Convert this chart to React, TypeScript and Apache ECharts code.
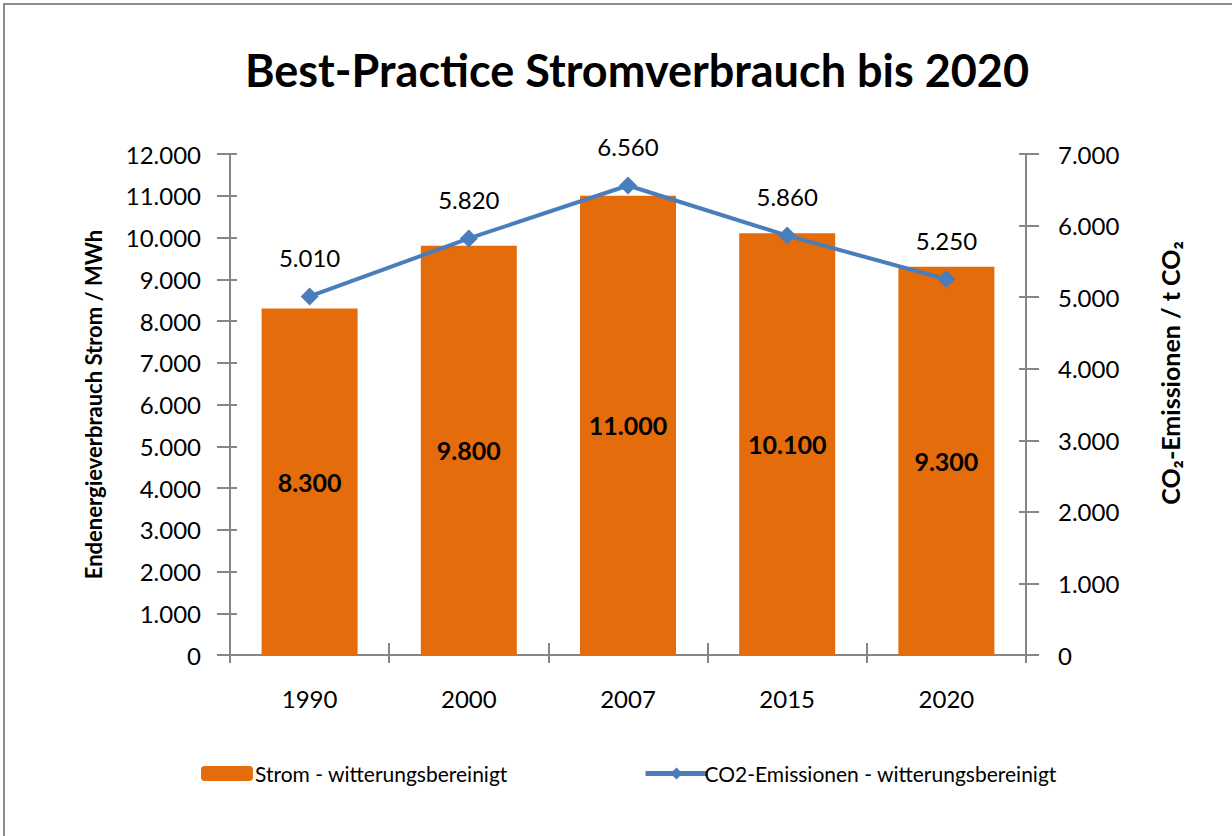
import React, { useEffect, useRef } from "react";
import * as echarts from "echarts";

const categories = ["1990", "2000", "2007", "2015", "2020"];
const stromValues = [8300, 9800, 11000, 10100, 9300];
const co2Values = [5010, 5820, 6560, 5860, 5250];
const stromName = "Strom - witterungsbereinigt";
const co2Name = "CO2-Emissionen - witterungsbereinigt";
const titleText = "Best-Practice Stromverbrauch bis 2020";
const leftAxisName = "Endenergieverbrauch Strom / MWh";
const rightAxisName = "CO\u2082-Emissionen / t CO\u2082";

const FONT = "Lato";
const AXIS_COLOR = "#868686";

const fmt = (v: number) =>
  String(Math.round(v)).replace(/\B(?=(\d{3})+(?!\d))/g, ".");

export default function App() {
  const ref = useRef<HTMLDivElement>(null);
  useEffect(() => {
    if (!ref.current) return;
    const chart = echarts.init(ref.current, undefined, { renderer: "svg" });
    const tickOnly = (position: "left" | "right", min: number, max: number, interval: number) => ({
      type: "value",
      position,
      min,
      max,
      interval,
      axisLine: { show: false },
      axisLabel: { show: false },
      splitLine: { show: false },
      axisTick: { show: true, inside: true, length: 7, lineStyle: { color: AXIS_COLOR, width: 2 } },
    });
    chart.setOption({
      animation: false,
      backgroundColor: "#ffffff",
      textStyle: { fontFamily: FONT },
      title: {
        text: titleText,
        left: 632,
        top: 42,
        textAlign: "center",
        textStyle: { fontFamily: FONT, fontSize: 45, fontWeight: "bold", color: "#000" },
      },
      graphic: [
        {
          type: "rect",
          shape: { x: 4, y: 4, width: 1300, height: 900 },
          style: { fill: "none", stroke: "#8c8c8c", lineWidth: 2 },
          silent: true,
        },
        {
          type: "text",
          x: 1170,
          y: 373,
          rotation: Math.PI / 2,
          style: {
            text: rightAxisName,
            fontFamily: FONT,
            fontSize: 25,
            fontWeight: "bold",
            fill: "#000",
            align: "center",
            verticalAlign: "middle",
          },
          silent: true,
        },
      ],
      legend: [
        {
          data: [stromName],
          left: 196,
          top: 758,
          itemWidth: 52,
          itemHeight: 15,
          itemGap: 0,
          textStyle: { fontFamily: FONT, fontSize: 21, color: "#000", padding: [0, 0, 0, -3] },
        },
        {
          data: [co2Name],
          left: 638,
          top: 758,
          itemWidth: 62,
          itemHeight: 15,
          lineStyle: { width: 5 },
          textStyle: { fontFamily: FONT, fontSize: 21, color: "#000", padding: [0, 0, 0, -8] },
        },
      ],
      grid: { left: 230, right: 206, top: 154, bottom: 181, containLabel: false },
      xAxis: [
        {
          type: "category",
          data: categories,
          position: "bottom",
          axisLine: { show: true, lineStyle: { color: AXIS_COLOR, width: 2 } },
          axisTick: { show: true, length: 8, lineStyle: { color: AXIS_COLOR, width: 2 } },
          axisLabel: { fontFamily: FONT, fontSize: 24, color: "#000", margin: 31 },
        },
        {
          type: "category",
          data: categories,
          position: "bottom",
          axisLine: { show: false },
          axisTick: { show: true, inside: true, length: 12, lineStyle: { color: AXIS_COLOR, width: 2 } },
          axisLabel: { show: false },
        },
      ],
      yAxis: [
        {
          type: "value",
          position: "left",
          min: 0,
          max: 12000,
          interval: 1000,
          name: leftAxisName,
          nameLocation: "middle",
          nameRotate: 90,
          nameGap: 126,
          nameTextStyle: { fontFamily: FONT, fontSize: 22, fontWeight: "bold", color: "#000" },
          axisLine: { show: true, lineStyle: { color: AXIS_COLOR, width: 2 } },
          axisTick: { show: true, length: 13, lineStyle: { color: AXIS_COLOR, width: 2 } },
          axisLabel: { fontFamily: FONT, fontSize: 24, color: "#000", margin: 29, formatter: fmt },
          splitLine: { show: false },
        },
        {
          type: "value",
          position: "right",
          min: 0,
          max: 7000,
          interval: 1000,
          axisLine: { show: true, lineStyle: { color: AXIS_COLOR, width: 2 } },
          axisTick: { show: true, length: 13, lineStyle: { color: AXIS_COLOR, width: 2 } },
          axisLabel: { fontFamily: FONT, fontSize: 24, color: "#000", margin: 32, formatter: fmt },
          splitLine: { show: false },
        },
        tickOnly("left", 0, 12000, 1000),
        tickOnly("right", 0, 7000, 1000),
      ],
      series: [
        {
          name: stromName,
          type: "bar",
          xAxisIndex: 0,
          yAxisIndex: 0,
          data: stromValues,
          barWidth: 96,
          itemStyle: { color: "#E46C0A" },
          label: {
            show: true,
            position: "inside",
            formatter: (p: any) => fmt(p.value),
            fontFamily: FONT,
            fontSize: 25,
            fontWeight: "bold",
            color: "#000",
          },
          z: 2,
        },
        {
          name: co2Name,
          type: "line",
          xAxisIndex: 0,
          yAxisIndex: 1,
          data: co2Values,
          symbol: "diamond",
          symbolSize: 18,
          lineStyle: { color: "#4A7EBB", width: 4 },
          itemStyle: { color: "#4A7EBB" },
          label: {
            show: true,
            position: "top",
            distance: 18,
            formatter: (p: any) => fmt(p.value),
            fontFamily: FONT,
            fontSize: 24,
            color: "#000",
          },
          z: 3,
        },
      ],
    });
    return () => chart.dispose();
  }, []);
  return (
    <div
      ref={ref}
      style={{ position: "fixed", left: 0, top: 0, width: 1232, height: 836 }}
    />
  );
}
